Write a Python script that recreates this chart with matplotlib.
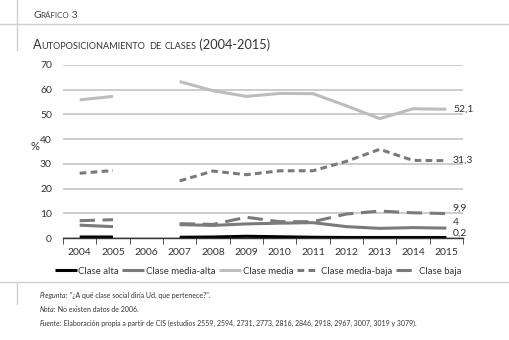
import numpy as np
import matplotlib
matplotlib.use("Agg")
import matplotlib.pyplot as plt

plt.rcParams['font.family'] = ['Lato', 'DejaVu Sans']

years = ["2004", "2005", "2006", "2007", "2008", "2009", "2010", "2011", "2012", "2013", "2014", "2015"]
nan = np.nan
clase_alta = [0.4, 0.4, nan, 0.3, 0.4, 0.7, 0.5, 0.3, 0.2, 0.2, 0.2, 0.2]
clase_media_alta = [5.2, 4.6, nan, 5.4, 5.1, 5.7, 6.0, 6.2, 4.6, 3.9, 4.2, 4.0]
clase_media = [55.9, 57.3, nan, 63.3, 59.6, 57.3, 58.5, 58.4, 53.5, 48.3, 52.3, 52.1]
clase_media_baja = [26.2, 27.3, nan, 23.1, 27.1, 25.6, 27.2, 27.2, 31.0, 35.9, 31.4, 31.3]
clase_baja = [7.0, 7.4, nan, 5.8, 5.5, 8.4, 6.6, 6.6, 9.7, 10.9, 10.2, 9.9]
end_labels = ["52,1", "31,3", "9,9", "4", "0,2"]
yticks = [0, 10, 20, 30, 40, 50, 60, 70]

W, H = 510, 340
fig = plt.figure(figsize=(W / 100, H / 100), dpi=100)
ax = fig.add_axes([63 / W, 1 - 238 / H, 400 / W, 173 / H])

x = np.arange(len(years))
c_dark = "#7a7a7a"
c_light = "#bdbdbd"
ax.plot(x, clase_alta, color="black", lw=2.2, label="Clase alta", solid_capstyle="butt")
ax.plot(x, clase_media_alta, color=c_dark, lw=2.2, label="Clase media-alta", solid_capstyle="butt")
ax.plot(x, clase_media, color=c_light, lw=2.2, label="Clase media", solid_capstyle="butt")
ax.plot(x, clase_media_baja, color=c_dark, lw=2.2, ls=(0, (2.2, 1.4)), label="Clase media-baja")
ax.plot(x, clase_baja, color=c_dark, lw=2.2, ls=(0, (5, 2.5)), label="Clase baja")

ax.set_xlim(-0.5, len(years) - 0.5)
ax.set_ylim(0, 70)
ax.set_yticks(yticks)
ax.set_yticklabels([str(v) for v in yticks], fontsize=7.5, color="#333333")
ax.set_xticks(x)
ax.set_xticklabels(years, fontsize=7.5, color="#333333")
ax.set_xticks(np.arange(-0.5, len(years), 1), minor=True)
ax.tick_params(axis="x", which="major", length=0, pad=7)
ax.tick_params(axis="x", which="minor", length=4, direction="out", color="#333333")
ax.tick_params(axis="y", length=0, pad=8)
for s in ["top", "right", "left"]:
    ax.spines[s].set_visible(False)
ax.spines["bottom"].set_color("#333333")
ax.spines["bottom"].set_linewidth(1.0)
ax.yaxis.grid(True, color="#c4c4c4", lw=1.2)
ax.set_axisbelow(True)
ax.set_ylabel("%", fontsize=8, rotation=0, color="#333333", labelpad=8)
ax.yaxis.set_label_coords(-0.07, 0.5)

# end labels
last = len(years) - 1
label_y = [clase_media[-1], clase_media_baja[-1], 12.0, 6.2, 1.8]
for txt, yy in zip(end_labels, label_y):
    ax.text(last + 0.2, yy, txt, fontsize=7.5, va="center", ha="left", color="#333333")

leg = fig.legend(loc="center", bbox_to_anchor=(258 / W, 1 - 271 / H), ncol=5, frameon=False,
                 fontsize=6.9, handlelength=2.3, handletextpad=0.15, columnspacing=0.4,
                 borderpad=0, borderaxespad=0)
for t in leg.get_texts():
    t.set_color("#333333")

# decorative rules
line_col = "#cfcfcf"
fig.add_artist(plt.Line2D([0, 1], [1 - 24 / H, 1 - 24 / H], transform=fig.transFigure, color=line_col, lw=1))
fig.add_artist(plt.Line2D([17 / W, 17 / W], [1, 1 - 50 / H], transform=fig.transFigure, color=line_col, lw=1))
fig.add_artist(plt.Line2D([0, 1], [1 - 282 / H, 1 - 282 / H], transform=fig.transFigure, color=line_col, lw=1))
fig.add_artist(plt.Line2D([17 / W, 17 / W], [1 - 283 / H, 1 - 304 / H], transform=fig.transFigure, color=line_col, lw=1))

renderer = fig.canvas.get_renderer()


def runs_text(x0, y0, pieces, color="#333333"):
    """pieces: list of (text, size, style)"""
    xp = x0
    for txt, size, style in pieces:
        t = fig.text(xp / W, 1 - y0 / H, txt, fontsize=size, style=style, color=color,
                     va="baseline", ha="left")
        bb = t.get_window_extent(renderer)
        xp += bb.width


def smallcaps(x0, y0, text, big, small, color="#333333"):
    pieces = []
    for ch in text:
        if ch.islower():
            pieces.append((ch.upper(), small, "normal"))
        else:
            pieces.append((ch, big, "normal"))
    merged = []
    for p in pieces:
        if merged and merged[-1][1] == p[1]:
            merged[-1] = (merged[-1][0] + p[0], p[1], p[2])
        else:
            merged.append(p)
    runs_text(x0, y0, merged, color=color)


smallcaps(33, 18, "Gráfico 3", 7.5, 5.8, color="#444444")
smallcaps(33, 49, "Autoposicionamiento de clases (2004-2015)", 9.2, 6.6, color="#333333")

fs = 5.0
runs_text(40, 298, [("Pregunta:", fs, "italic"), (" \"¿A qué clase social diría Ud. que pertenece?\".", fs, "normal")])
runs_text(40, 312, [("Nota:", fs, "italic"), (" No existen datos de 2006.", fs, "normal")])
runs_text(40, 326, [("Fuente:", fs, "italic"),
                    (" Elaboración propia a partir de CIS (estudios 2559, 2594, 2731, 2773, 2816, 2846, 2918, 2967, 3007, 3019 y 3079).", fs, "normal")])

fig.savefig("out.png", dpi=100)
